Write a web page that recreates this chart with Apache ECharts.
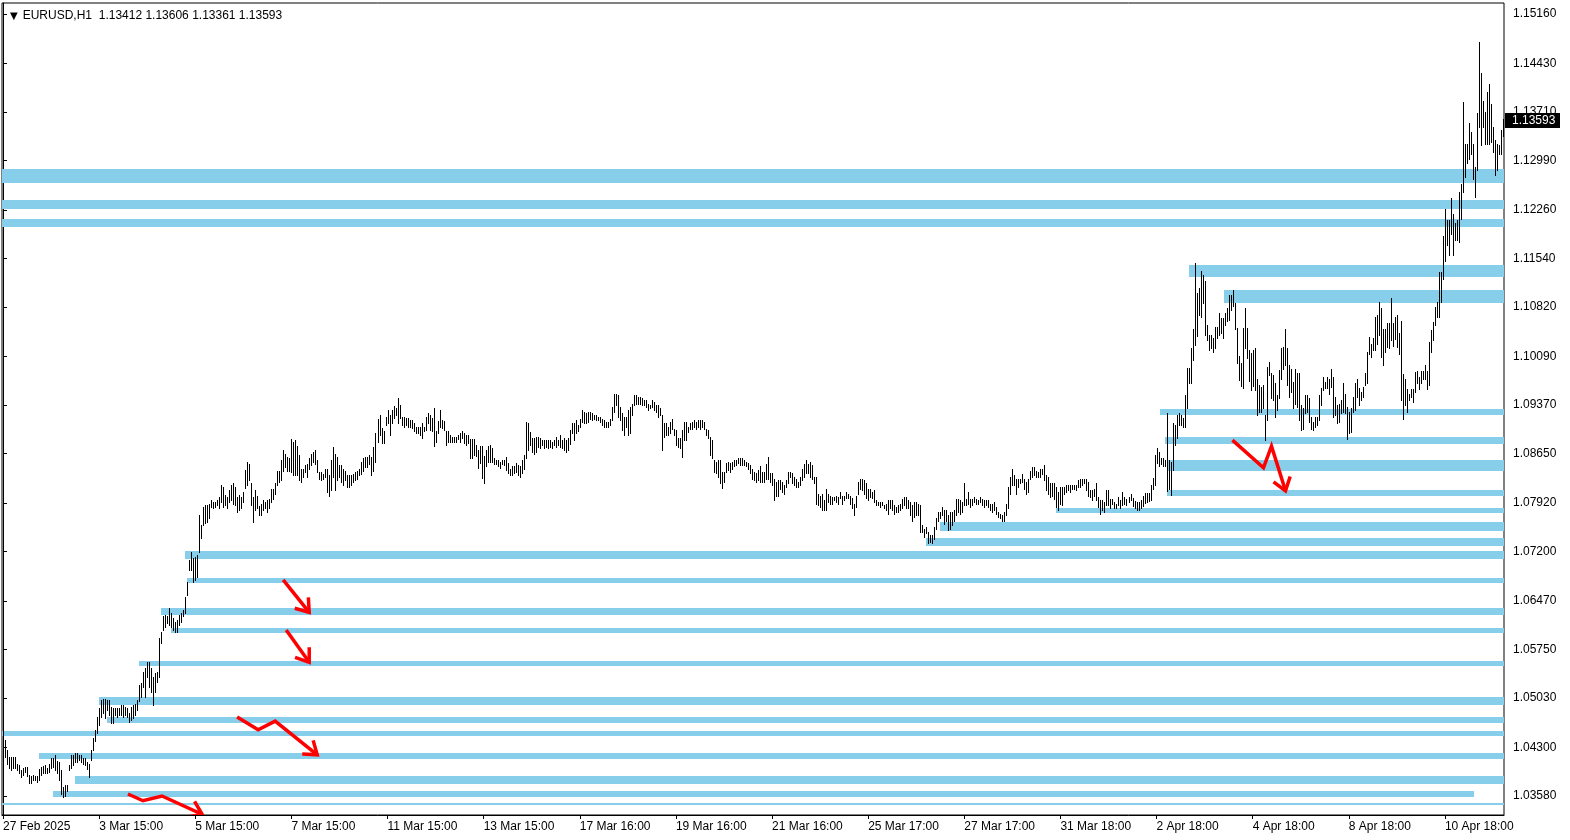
<!DOCTYPE html>
<html>
<head>
<meta charset="utf-8">
<script src="https://cdn.jsdelivr.net/npm/echarts@6/dist/echarts.min.js"></script>
<style>
html,body{margin:0;padding:0;background:#fff;}
#chart{width:1570px;height:840px;}
</style>
</head>
<body>
<div id="chart"></div>
<script>
// ---- header / last bar ----
const symbolName = 'EURUSD,H1';
const lastBarOHLC = [1.13412, 1.13606, 1.13361, 1.13593];

// ---- axis ticks ----
const xTickBars = [0,48,96,144,192,240,288,336,384,432,480,528,576,624,672,720];
const xTickLabels = ['27 Feb 2025','3 Mar 15:00','5 Mar 15:00','7 Mar 15:00','11 Mar 15:00','13 Mar 15:00',
  '17 Mar 16:00','19 Mar 16:00','21 Mar 16:00','25 Mar 17:00','27 Mar 17:00','31 Mar 18:00',
  '2 Apr 18:00','4 Apr 18:00','8 Apr 18:00','10 Apr 18:00'];
const yTickValues = [1.0358,1.0430,1.0503,1.0575,1.0647,1.0720,1.0792,1.0865,1.0937,1.1009,
  1.1082,1.1154,1.1226,1.1299,1.1371,1.1443,1.1516];
const priceMin = 1.03299, priceMax = 1.15324;

// ---- H1 bars: highs and lows ----
const highs = [
1.0488,1.0441,1.0426,1.0416,1.0416,1.0416,1.0416,1.0406,1.0404,1.0397,
1.0399,1.0401,1.0401,1.0389,1.0388,1.0389,1.0388,1.0388,1.0398,1.0401,
1.0402,1.0404,1.0400,1.0405,1.0414,1.0414,1.0419,1.0410,1.0409,1.0397,
1.0372,1.0374,1.0374,1.0404,1.0419,1.0419,1.0421,1.0421,1.0419,1.0419,
1.0414,1.0414,1.0409,1.0406,1.0426,1.0444,1.0456,1.0475,1.0488,1.0500,
1.0501,1.0501,1.0500,1.0500,1.0490,1.0488,1.0488,1.0488,1.0488,1.0493,
1.0493,1.0490,1.0488,1.0481,1.0490,1.0493,1.0495,1.0500,1.0522,1.0525,
1.0542,1.0547,1.0557,1.0557,1.0547,1.0535,1.0540,1.0542,1.0592,1.0601,
1.0624,1.0626,1.0624,1.0636,1.0629,1.0621,1.0616,1.0619,1.0626,1.0629,
1.0633,1.0653,1.0675,1.0707,1.0720,1.0710,1.0712,1.0715,1.0774,1.0759,
1.0786,1.0789,1.0789,1.0791,1.0796,1.0794,1.0794,1.0796,1.0801,1.0818,
1.0816,1.0804,1.0801,1.0811,1.0818,1.0821,1.0816,1.0801,1.0804,1.0801,
1.0808,1.0841,1.0853,1.0850,1.0821,1.0801,1.0811,1.0803,1.0788,1.0791,
1.0796,1.0793,1.0796,1.0798,1.0813,1.0813,1.0821,1.0840,1.0840,1.0855,
1.0870,1.0865,1.0860,1.0858,1.0887,1.0882,1.0885,1.0877,1.0863,1.0843,
1.0843,1.0848,1.0850,1.0858,1.0865,1.0867,1.0870,1.0855,1.0838,1.0838,
1.0835,1.0843,1.0843,1.0833,1.0855,1.0875,1.0865,1.0860,1.0848,1.0848,
1.0843,1.0840,1.0833,1.0833,1.0833,1.0835,1.0838,1.0840,1.0843,1.0853,
1.0858,1.0860,1.0860,1.0863,1.0860,1.0875,1.0895,1.0917,1.0922,1.0903,
1.0898,1.0920,1.0930,1.0923,1.0930,1.0935,1.0932,1.0947,1.0937,1.0920,
1.0920,1.0918,1.0918,1.0915,1.0915,1.0910,1.0905,1.0905,1.0905,1.0910,
1.0905,1.0920,1.0925,1.0923,1.0918,1.0932,1.0898,1.0913,1.0930,1.0915,
1.0913,1.0898,1.0898,1.0893,1.0890,1.0890,1.0890,1.0893,1.0895,1.0898,
1.0895,1.0893,1.0893,1.0886,1.0886,1.0886,1.0878,1.0871,1.0876,1.0876,
1.0861,1.0871,1.0876,1.0878,1.0873,1.0858,1.0856,1.0856,1.0853,1.0856,
1.0856,1.0860,1.0851,1.0843,1.0846,1.0846,1.0851,1.0848,1.0846,1.0856,
1.0863,1.0912,1.0910,1.0897,1.0888,1.0888,1.0890,1.0890,1.0888,1.0885,
1.0885,1.0885,1.0885,1.0885,1.0883,1.0885,1.0890,1.0885,1.0893,1.0885,
1.0888,1.0885,1.0888,1.0900,1.0910,1.0910,1.0915,1.0907,1.0917,1.0930,
1.0927,1.0925,1.0927,1.0927,1.0925,1.0922,1.0922,1.0920,1.0920,1.0917,
1.0915,1.0912,1.0912,1.0917,1.0934,1.0954,1.0954,1.0952,1.0934,1.0925,
1.0920,1.0920,1.0930,1.0934,1.0939,1.0952,1.0952,1.0949,1.0949,1.0947,
1.0944,1.0944,1.0939,1.0937,1.0944,1.0942,1.0937,1.0937,1.0932,1.0922,
1.0910,1.0910,1.0905,1.0912,1.0917,1.0902,1.0900,1.0888,1.0888,1.0900,
1.0912,1.0912,1.0905,1.0910,1.0912,1.0915,1.0912,1.0915,1.0915,1.0915,
1.0912,1.0902,1.0900,1.0890,1.0885,1.0855,1.0853,1.0855,1.0855,1.0838,
1.0838,1.0851,1.0853,1.0851,1.0853,1.0855,1.0855,1.0858,1.0858,1.0858,
1.0855,1.0853,1.0851,1.0848,1.0843,1.0838,1.0836,1.0841,1.0846,1.0838,
1.0838,1.0850,1.0860,1.0836,1.0836,1.0828,1.0823,1.0826,1.0826,1.0823,
1.0818,1.0826,1.0838,1.0838,1.0836,1.0831,1.0828,1.0823,1.0831,1.0843,
1.0850,1.0855,1.0850,1.0853,1.0848,1.0831,1.0831,1.0806,1.0803,1.0806,
1.0796,1.0813,1.0806,1.0803,1.0801,1.0801,1.0803,1.0801,1.0808,1.0803,
1.0803,1.0808,1.0806,1.0803,1.0799,1.0791,1.0803,1.0823,1.0828,1.0828,
1.0826,1.0821,1.0813,1.0813,1.0808,1.0811,1.0796,1.0794,1.0794,1.0793,
1.0789,1.0791,1.0796,1.0796,1.0796,1.0789,1.0786,1.0789,1.0791,1.0798,
1.0801,1.0801,1.0796,1.0793,1.0789,1.0793,1.0793,1.0791,1.0789,1.0759,
1.0754,1.0756,1.0749,1.0744,1.0744,1.0756,1.0769,1.0779,1.0779,1.0786,
1.0781,1.0781,1.0774,1.0779,1.0779,1.0781,1.0798,1.0798,1.0796,1.0793,
1.0821,1.0798,1.0808,1.0798,1.0798,1.0801,1.0798,1.0796,1.0801,1.0798,
1.0796,1.0796,1.0796,1.0791,1.0791,1.0793,1.0786,1.0779,1.0776,1.0774,
1.0778,1.0791,1.0816,1.0831,1.0843,1.0833,1.0828,1.0828,1.0828,1.0835,
1.0828,1.0823,1.0828,1.0840,1.0845,1.0845,1.0840,1.0838,1.0843,1.0843,
1.0848,1.0833,1.0830,1.0821,1.0821,1.0821,1.0816,1.0808,1.0816,1.0816,
1.0816,1.0818,1.0818,1.0818,1.0818,1.0818,1.0818,1.0826,1.0828,1.0828,
1.0828,1.0828,1.0823,1.0811,1.0811,1.0813,1.0821,1.0801,1.0796,1.0796,
1.0793,1.0811,1.0811,1.0798,1.0798,1.0793,1.0791,1.0801,1.0796,1.0808,
1.0801,1.0798,1.0801,1.0806,1.0800,1.0795,1.0793,1.0794,1.0796,1.0802,
1.0807,1.0807,1.0807,1.0819,1.0829,1.0863,1.0873,1.0868,1.0858,1.0858,
1.0856,1.0925,1.0856,1.0853,1.0910,1.0908,1.0923,1.0925,1.0923,1.0918,
1.0952,1.0992,1.0992,1.1021,1.1049,1.1147,1.1103,1.1110,1.1135,1.1130,
1.1120,1.1056,1.1041,1.1041,1.1036,1.1053,1.1053,1.1073,1.1066,1.1066,
1.1073,1.1081,1.1100,1.1100,1.1108,1.1088,1.1051,1.1009,1.0999,1.1051,
1.1081,1.1051,1.1019,1.1014,1.1018,1.1021,1.0976,1.0966,1.0964,1.0966,
1.0922,1.0994,1.1001,1.0984,1.0981,1.0969,1.0952,1.0989,1.1021,1.1023,
1.1050,1.1021,1.0996,1.0991,1.0971,1.0991,1.0984,1.0984,1.0937,1.0932,
1.0952,1.0952,1.0947,1.0920,1.0912,1.0920,1.0920,1.0952,1.0962,1.0979,
1.0971,1.0979,1.0976,1.0991,1.0979,1.0949,1.0937,1.0939,1.0944,1.0969,
1.0954,1.0934,1.0927,1.0932,1.0949,1.0969,1.0976,1.0962,1.0957,1.0964,
1.0984,1.1016,1.1038,1.1028,1.1036,1.1068,1.1070,1.1090,1.1080,1.1050,
1.1050,1.1058,1.1058,1.1095,1.1058,1.1067,1.1070,1.1043,1.1062,1.0983,
1.0976,1.0961,1.0954,1.0961,1.0961,1.0986,1.0988,1.0979,1.0988,1.0988,
1.0996,1.0988,1.1030,1.1048,1.1060,1.1082,1.1090,1.1134,1.1134,1.1188,
1.1228,1.1211,1.1211,1.1243,1.1220,1.1206,1.1211,1.1253,1.1265,1.1386,
1.1324,1.1324,1.1354,1.1341,1.1324,1.1290,1.1369,1.1475,1.1428,1.1388,
1.1371,1.1401,1.1413,1.1383,1.1349,1.1329,1.1324,1.1322,1.1344,1.1361
];
const lows = [
1.0416,1.0416,1.0406,1.0399,1.0397,1.0399,1.0399,1.0397,1.0392,1.0386,
1.0389,1.0394,1.0387,1.0378,1.0378,1.0382,1.0381,1.0379,1.0382,1.0389,
1.0392,1.0392,1.0392,1.0394,1.0399,1.0401,1.0397,1.0392,1.0382,1.0361,
1.0357,1.0358,1.0366,1.0397,1.0399,1.0404,1.0409,1.0409,1.0411,1.0409,
1.0406,1.0404,1.0398,1.0386,1.0411,1.0426,1.0439,1.0451,1.0463,1.0475,
1.0481,1.0473,1.0485,1.0478,1.0466,1.0466,1.0478,1.0475,1.0478,1.0478,
1.0475,1.0478,1.0475,1.0468,1.0470,1.0473,1.0478,1.0485,1.0498,1.0505,
1.0520,1.0505,1.0535,1.0520,1.0512,1.0493,1.0512,1.0527,1.0535,1.0584,
1.0604,1.0609,1.0614,1.0611,1.0609,1.0604,1.0601,1.0601,1.0611,1.0616,
1.0624,1.0629,1.0656,1.0693,1.0693,1.0675,1.0678,1.0683,1.0720,1.0740,
1.0759,1.0762,1.0764,1.0769,1.0786,1.0784,1.0786,1.0789,1.0784,1.0794,
1.0786,1.0789,1.0784,1.0794,1.0796,1.0791,1.0789,1.0779,1.0781,1.0784,
1.0794,1.0814,1.0818,1.0826,1.0789,1.0764,1.0781,1.0784,1.0774,1.0774,
1.0781,1.0784,1.0779,1.0784,1.0793,1.0798,1.0806,1.0818,1.0823,1.0826,
1.0840,1.0845,1.0840,1.0840,1.0838,1.0833,1.0833,1.0833,1.0826,1.0823,
1.0830,1.0838,1.0830,1.0843,1.0848,1.0853,1.0850,1.0838,1.0828,1.0826,
1.0828,1.0830,1.0808,1.0803,1.0811,1.0830,1.0811,1.0826,1.0830,1.0823,
1.0818,1.0826,1.0816,1.0816,1.0818,1.0823,1.0826,1.0828,1.0833,1.0835,
1.0840,1.0845,1.0845,1.0850,1.0833,1.0840,1.0853,1.0882,1.0892,1.0881,
1.0881,1.0908,1.0910,1.0893,1.0910,1.0918,1.0923,1.0910,1.0918,1.0908,
1.0905,1.0908,1.0905,1.0905,1.0903,1.0898,1.0895,1.0895,1.0893,1.0888,
1.0898,1.0900,1.0910,1.0900,1.0898,1.0876,1.0883,1.0895,1.0905,1.0903,
1.0900,1.0878,1.0883,1.0883,1.0883,1.0883,1.0883,1.0886,1.0883,1.0888,
1.0881,1.0878,1.0881,1.0858,1.0858,1.0863,1.0861,1.0844,1.0851,1.0829,
1.0821,1.0846,1.0853,1.0853,1.0853,1.0849,1.0849,1.0846,1.0844,1.0849,
1.0848,1.0841,1.0836,1.0833,1.0833,1.0836,1.0838,1.0833,1.0831,1.0836,
1.0843,1.0858,1.0870,1.0878,1.0868,1.0865,1.0868,1.0875,1.0873,1.0878,
1.0873,1.0875,1.0873,1.0875,1.0873,1.0878,1.0875,1.0878,1.0875,1.0873,
1.0870,1.0868,1.0870,1.0880,1.0895,1.0885,1.0895,1.0898,1.0905,1.0912,
1.0910,1.0910,1.0912,1.0917,1.0915,1.0917,1.0915,1.0915,1.0912,1.0907,
1.0905,1.0905,1.0905,1.0907,1.0915,1.0927,1.0937,1.0920,1.0915,1.0900,
1.0893,1.0905,1.0893,1.0895,1.0922,1.0937,1.0939,1.0939,1.0939,1.0937,
1.0937,1.0934,1.0930,1.0932,1.0934,1.0930,1.0927,1.0920,1.0922,1.0870,
1.0890,1.0893,1.0893,1.0895,1.0902,1.0893,1.0878,1.0875,1.0873,1.0860,
1.0885,1.0885,1.0897,1.0902,1.0902,1.0905,1.0902,1.0905,1.0902,1.0905,
1.0902,1.0893,1.0888,1.0863,1.0858,1.0838,1.0836,1.0831,1.0821,1.0814,
1.0823,1.0838,1.0841,1.0838,1.0843,1.0846,1.0848,1.0851,1.0848,1.0848,
1.0848,1.0846,1.0843,1.0836,1.0828,1.0826,1.0823,1.0826,1.0823,1.0823,
1.0823,1.0828,1.0828,1.0823,1.0818,1.0796,1.0803,1.0803,1.0813,1.0808,
1.0806,1.0816,1.0821,1.0831,1.0821,1.0818,1.0816,1.0816,1.0818,1.0826,
1.0831,1.0836,1.0836,1.0831,1.0828,1.0821,1.0791,1.0789,1.0786,1.0781,
1.0781,1.0781,1.0794,1.0791,1.0791,1.0796,1.0794,1.0791,1.0799,1.0791,
1.0796,1.0799,1.0799,1.0791,1.0784,1.0774,1.0786,1.0806,1.0813,1.0811,
1.0806,1.0799,1.0796,1.0801,1.0799,1.0794,1.0789,1.0789,1.0786,1.0789,
1.0784,1.0781,1.0776,1.0784,1.0781,1.0776,1.0779,1.0779,1.0781,1.0784,
1.0789,1.0784,1.0784,1.0774,1.0766,1.0771,1.0774,1.0774,1.0749,1.0749,
1.0742,1.0747,1.0732,1.0734,1.0732,1.0739,1.0754,1.0766,1.0769,1.0774,
1.0761,1.0766,1.0752,1.0754,1.0759,1.0766,1.0774,1.0779,1.0776,1.0779,
1.0789,1.0789,1.0791,1.0786,1.0789,1.0793,1.0791,1.0791,1.0793,1.0789,
1.0786,1.0789,1.0786,1.0781,1.0779,1.0781,1.0776,1.0771,1.0769,1.0766,
1.0765,1.0774,1.0784,1.0806,1.0818,1.0818,1.0806,1.0816,1.0821,1.0823,
1.0813,1.0806,1.0808,1.0828,1.0830,1.0833,1.0830,1.0830,1.0830,1.0835,
1.0826,1.0811,1.0806,1.0801,1.0803,1.0798,1.0786,1.0781,1.0791,1.0789,
1.0806,1.0808,1.0811,1.0808,1.0813,1.0813,1.0811,1.0816,1.0816,1.0818,
1.0821,1.0811,1.0803,1.0801,1.0796,1.0803,1.0796,1.0786,1.0776,1.0781,
1.0779,1.0789,1.0789,1.0784,1.0791,1.0784,1.0784,1.0789,1.0784,1.0789,
1.0791,1.0789,1.0793,1.0796,1.0788,1.0784,1.0781,1.0782,1.0784,1.0788,
1.0792,1.0794,1.0795,1.0797,1.0812,1.0819,1.0851,1.0846,1.0849,1.0846,
1.0846,1.0809,1.0812,1.0804,1.0841,1.0878,1.0888,1.0908,1.0908,1.0905,
1.0905,1.0932,1.0970,1.0970,1.1004,1.1026,1.1039,1.1071,1.1068,1.1088,
1.1041,1.1034,1.1019,1.1021,1.1016,1.1021,1.1036,1.1041,1.1044,1.1036,
1.1056,1.1061,1.1063,1.1078,1.1083,1.1049,1.0999,1.0974,1.0965,1.0962,
1.1021,1.1007,1.0972,1.0960,1.0965,1.0960,1.0922,1.0927,1.0927,1.0932,
1.0885,1.0915,1.0981,1.0947,1.0944,1.0920,1.0929,1.0947,1.0976,1.0991,
1.0996,1.0966,1.0949,1.0957,1.0932,1.0939,1.0934,1.0915,1.0900,1.0902,
1.0925,1.0927,1.0912,1.0902,1.0900,1.0905,1.0907,1.0915,1.0937,1.0959,
1.0962,1.0962,1.0954,1.0964,1.0920,1.0922,1.0910,1.0912,1.0925,1.0927,
1.0925,1.0887,1.0895,1.0897,1.0927,1.0929,1.0949,1.0937,1.0944,1.0949,
1.0966,1.0969,1.1013,1.1008,1.1018,1.1018,1.1028,1.1040,1.1008,1.0996,
1.1016,1.1023,1.1021,1.1033,1.1025,1.1035,1.1023,1.1013,1.0944,1.0917,
1.0937,1.0927,1.0944,1.0949,1.0942,1.0956,1.0969,1.0961,1.0969,1.0976,
1.0976,1.0961,1.0966,1.1016,1.1033,1.1055,1.1067,1.1067,1.1090,1.1124,
1.1151,1.1174,1.1159,1.1191,1.1159,1.1181,1.1181,1.1178,1.1213,1.1253,
1.1275,1.1295,1.1302,1.1309,1.1272,1.1245,1.1285,1.1349,1.1322,1.1349,
1.1324,1.1324,1.1324,1.1327,1.1312,1.1277,1.1285,1.1309,1.1309,1.1336
];

// ---- horizontal zones (bar index where each starts / ends, price top / bottom) ----
const bandStart  = [-0.5,-0.5,-0.5,592,609.5,577.5,580,581,581,526,468,461,91,92,79,84,68,48,52,-0.5,18,36,25,-0.5];
const bandEnd    = [749.5,749.5,749.5,749.5,749.5,749.5,749.5,749.5,749.5,749.5,749.5,749.5,749.5,749.5,749.5,749.5,749.5,749.5,749.5,749.5,749.5,749.5,734.5,749.5];
const bandTop    = [1.1286,1.1240,1.1213,1.1145,1.1108,1.0931,1.0889,1.0855,1.0811,1.0785,1.0764,1.0740,1.0721,1.0681,1.0637,1.0607,1.0558,1.0505,1.0475,1.0455,1.0422,1.0388,1.0366,1.0348];
const bandBottom = [1.1266,1.1228,1.1200,1.1127,1.1088,1.0922,1.0880,1.0840,1.0803,1.0777,1.0751,1.0729,1.0709,1.0674,1.0626,1.0599,1.0551,1.0493,1.0466,1.0447,1.0413,1.0376,1.0357,1.0345];

// ---- red arrows (bar index, price) ----
const arrowBars   = [[139.9,152.9],[141.4,152.9],[116.9,127.4,135.9,156.9],[613.9,629.4,633.4,640.4],[62.4,69.9,79.4,99.4]];
const arrowPrices = [[1.0678,1.0630],[1.0604,1.0556],[1.0475,1.0456,1.0469,1.0419],[1.0885,1.0844,1.0876,1.0810],[1.0361,1.0351,1.0358,1.0331]];

const FONT = 'Liberation Sans, Arial, sans-serif';
const chart = echarts.init(document.getElementById('chart'), null, {renderer: 'canvas'});

const headerText = '{t|▼}{g| }' + symbolName + '  ' + lastBarOHLC.map(v => v.toFixed(5)).join(' ');
const lastClose = lastBarOHLC[3];

chart.setOption({
  animation: false,
  backgroundColor: '#fff',
  title: {
    text: headerText, left: 5, top: 5,
    textStyle: {fontFamily: FONT, fontSize: 12, fontWeight: 'normal', color: '#000',
      rich: {t: {fontSize: 10, color: '#000', fontFamily: 'DejaVu Sans'},
             g: {fontSize: 12, width: 5}}}
  },
  grid: {left: 2, right: 66, top: 3, bottom: 25, show: true, borderColor: '#000', borderWidth: 1,
    backgroundColor: 'transparent', outerBoundsMode: 'none'},
  xAxis: {
    type: 'value', min: -0.5, max: 749.5,
    axisLine: {show: true, lineStyle: {color: '#000', width: 1}},
    axisTick: {show: true, length: 4, lineStyle: {color: '#000'}, customValues: xTickBars},
    axisLabel: {show: true, customValues: xTickBars, align: 'left', margin: 6,
      fontFamily: FONT, fontSize: 12, color: '#000',
      formatter: v => xTickLabels[xTickBars.indexOf(Math.round(v))]},
    splitLine: {show: false}
  },
  yAxis: {
    type: 'value', position: 'right', min: priceMin, max: priceMax, scale: true,
    axisLine: {show: true, lineStyle: {color: '#000', width: 1}},
    axisTick: {show: true, length: 4, lineStyle: {color: '#000'}, customValues: yTickValues},
    axisLabel: {show: true, customValues: yTickValues, margin: 9,
      fontFamily: FONT, fontSize: 12, color: '#000', formatter: v => v.toFixed(5)},
    splitLine: {show: false}
  },
  series: [
    {
      type: 'custom', name: 'zones', z: 1, clip: true, silent: true,
      data: bandStart.map((s, k) => [s, bandTop[k], bandEnd[k], bandBottom[k]]),
      encode: {x: [0, 2], y: [1, 3]},
      renderItem: (params, api) => {
        const p1 = api.coord([api.value(0), api.value(1)]);
        const p2 = api.coord([api.value(2), api.value(3)]);
        const x = Math.round(p1[0]), y = Math.round(p1[1]);
        return {type: 'rect',
          shape: {x: x, y: y, width: Math.round(p2[0]) - x, height: Math.max(2, Math.round(p2[1]) - y)},
          style: {fill: '#87CEEB'}};
      }
    },
    {
      type: 'custom', name: 'bars', z: 2, clip: true, silent: true,
      data: highs.map((h, i) => [i, h, lows[i]]),
      encode: {x: 0, y: [1, 2]},
      renderItem: (params, api) => {
        const i = api.value(0);
        const hi = api.coord([i, api.value(1)]);
        const lo = api.coord([i, api.value(2)]);
        const x = Math.round(hi[0]) + 0.5;
        return {type: 'line',
          shape: {x1: x, y1: Math.round(hi[1]), x2: x, y2: Math.round(lo[1]) + 1},
          style: {stroke: '#000', lineWidth: 1}};
      }
    },
    {
      type: 'custom', name: 'arrows', z: 3, clip: true, silent: true,
      data: arrowBars.map((b, k) => [b[0], arrowPrices[k][0]]),
      encode: {x: 0, y: 1},
      renderItem: (params, api) => {
        const k = params.dataIndex;
        const pts = arrowBars[k].map((b, j) => api.coord([b, arrowPrices[k][j]]));
        const n = pts.length;
        const [x1, y1] = pts[n - 2];
        const [x2, y2] = pts[n - 1];
        const ang = Math.atan2(y1 - y2, x1 - x2);
        const L = 15, spread = 0.62;
        const h1 = [x2 + L * Math.cos(ang + spread), y2 + L * Math.sin(ang + spread)];
        const h2 = [x2 + L * Math.cos(ang - spread), y2 + L * Math.sin(ang - spread)];
        return {type: 'group', children: [
          {type: 'polyline', shape: {points: pts}, style: {stroke: '#ff0000', lineWidth: 3.5, fill: null, lineJoin: 'miter'}},
          {type: 'polyline', shape: {points: [h1, [x2, y2], h2]}, style: {stroke: '#ff0000', lineWidth: 3.5, fill: null}}
        ]};
      }
    },
    {
      type: 'custom', name: 'lastPrice', z: 10, clip: false, silent: true,
      data: [[749.5, lastClose]],
      encode: {x: 0, y: 1},
      renderItem: (params, api) => {
        const p = api.coord([api.value(0), api.value(1)]);
        const x = Math.round(p[0]), y = Math.round(p[1]);
        return {type: 'group', children: [
          {type: 'rect', shape: {x: x + 1, y: y - 7, width: 55, height: 15}, style: {fill: '#000'}},
          {type: 'text', style: {text: lastClose.toFixed(5), x: x + 8, y: y + 1, verticalAlign: 'middle', align: 'left',
            fill: '#fff', font: '12px "Liberation Sans", Arial, sans-serif'}}
        ]};
      }
    }
  ]
});
</script>
</body>
</html>
